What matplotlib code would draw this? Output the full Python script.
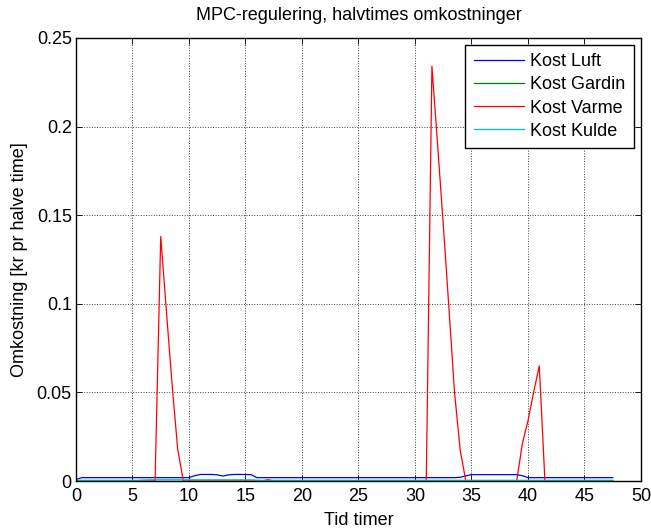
# MPC-regulering: halvtimes omkostninger for luft, gardin, varme og kulde
import numpy as np
import matplotlib
matplotlib.use("Agg")
import matplotlib.pyplot as plt

plt.rcParams['font.family'] = ['Liberation Sans', 'DejaVu Sans']
plt.rcParams['font.size'] = 13

# Tid i timer, halvtimes skridt (0 .. 47.5)
tid = np.arange(96) * 0.5

kost_luft = [
    0.0008, 0.0019, 0.0019, 0.0019, 0.0019, 0.0019, 0.0019, 0.0019, 0.0019, 0.0019, 0.0019, 0.0019,
    0.0019, 0.0019, 0.0019, 0.0019, 0.0019, 0.0019, 0.0019, 0.0019, 0.0019, 0.0030, 0.0037, 0.0037,
    0.0037, 0.0035, 0.0028, 0.0035, 0.0037, 0.0037, 0.0037, 0.0036, 0.0019, 0.0019, 0.0019, 0.0019,
    0.0019, 0.0019, 0.0019, 0.0019, 0.0019, 0.0019, 0.0019, 0.0019, 0.0019, 0.0019, 0.0019, 0.0019,
    0.0019, 0.0019, 0.0019, 0.0019, 0.0019, 0.0019, 0.0019, 0.0019, 0.0019, 0.0019, 0.0019, 0.0019,
    0.0019, 0.0019, 0.0019, 0.0019, 0.0019, 0.0019, 0.0019, 0.0019, 0.0021, 0.0029, 0.0036, 0.0036,
    0.0036, 0.0036, 0.0036, 0.0036, 0.0036, 0.0036, 0.0036, 0.0030, 0.0019, 0.0019, 0.0019, 0.0019,
    0.0019, 0.0019, 0.0019, 0.0019, 0.0019, 0.0019, 0.0019, 0.0019, 0.0019, 0.0019, 0.0019, 0.0019,
]

kost_gardin = [
    0.0001, 0.0001, 0.0001, 0.0001, 0.0001, 0.0001, 0.0001, 0.0001, 0.0001, 0.0001, 0.0001, 0.0001,
    0.0001, 0.0001, 0.0001, 0.0001, 0.0001, 0.0001, 0.0001, 0.0001, 0.0001, 0.0001, 0.0001, 0.0001,
    0.0001, 0.0001, 0.0001, 0.0001, 0.0001, 0.0001, 0.0001, 0.0001, 0.0001, 0.0001, 0.0001, 0.0001,
    0.0001, 0.0001, 0.0001, 0.0001, 0.0001, 0.0001, 0.0001, 0.0001, 0.0001, 0.0001, 0.0001, 0.0001,
    0.0001, 0.0001, 0.0001, 0.0001, 0.0001, 0.0001, 0.0001, 0.0001, 0.0001, 0.0001, 0.0001, 0.0001,
    0.0001, 0.0001, 0.0001, 0.0001, 0.0001, 0.0001, 0.0001, 0.0001, 0.0001, 0.0001, 0.0001, 0.0001,
    0.0001, 0.0001, 0.0001, 0.0001, 0.0001, 0.0001, 0.0001, 0.0001, 0.0001, 0.0001, 0.0001, 0.0001,
    0.0001, 0.0001, 0.0001, 0.0001, 0.0001, 0.0001, 0.0001, 0.0001, 0.0001, 0.0001, 0.0001, 0.0001,
]

kost_varme = [
    0, 0, 0, 0, 0, 0, 0, 0, 0, 0, 0, 0,
    0, 0, 0, 0.138, 0.096, 0.055, 0.018, 0, 0, 0, 0, 0,
    0, 0, 0, 0, 0, 0, 0, 0, 0, 0, 0.0008, 0,
    0, 0, 0, 0, 0, 0, 0, 0, 0, 0, 0, 0,
    0, 0, 0, 0, 0, 0, 0, 0, 0, 0, 0, 0,
    0, 0, 0, 0.234, 0.190, 0.145, 0.098, 0.050, 0.0175, 0, 0, 0,
    0, 0, 0, 0, 0, 0, 0, 0.021, 0.034, 0.050, 0.065, 0,
    0, 0, 0, 0, 0, 0, 0, 0, 0, 0, 0, 0,
]

kost_kulde = [
    0.0004, 0.0004, 0.0004, 0.0004, 0.0004, 0.0004, 0.0004, 0.0004, 0.0004, 0.0004, 0.0004, 0.0004,
    0.0006, 0.0007, 0.0007, 0.0007, 0.0007, 0.0007, 0.0007, 0.0007, 0.0007, 0.0007, 0.0007, 0.0007,
    0.0007, 0.0007, 0.0007, 0.0007, 0.0007, 0.0007, 0.0007, 0.0007, 0.0005, 0.0004, 0.0004, 0.0004,
    0.0004, 0.0004, 0.0004, 0.0004, 0.0004, 0.0004, 0.0004, 0.0004, 0.0004, 0.0004, 0.0004, 0.0004,
    0.0004, 0.0004, 0.0004, 0.0004, 0.0004, 0.0004, 0.0004, 0.0004, 0.0004, 0.0004, 0.0004, 0.0004,
    0.0004, 0.0004, 0.0004, 0.0004, 0.0004, 0.0004, 0.0004, 0.0004, 0.0004, 0.0004, 0.0004, 0.0004,
    0.0004, 0.0004, 0.0004, 0.0004, 0.0004, 0.0004, 0.0004, 0.0004, 0.0004, 0.0004, 0.0004, 0.0004,
    0.0004, 0.0004, 0.0004, 0.0004, 0.0004, 0.0004, 0.0004, 0.0004, 0.0004, 0.0004, 0.0004, 0.0004,
]

x_ticks = [0, 5, 10, 15, 20, 25, 30, 35, 40, 45, 50]
y_ticks = [0, 0.05, 0.1, 0.15, 0.2, 0.25]
y_tick_labels = ["0", "0.05", "0.1", "0.15", "0.2", "0.25"]

fig = plt.figure(figsize=(6.51, 5.29), dpi=100)
ax = fig.add_axes([0.1167, 0.0907, 0.8679, 0.8375])

lw = 0.9
ax.plot(tid, kost_luft, color=(0, 0, 1), lw=lw, label="Kost Luft")
ax.plot(tid, kost_gardin, color=(0, 0.5, 0), lw=lw, label="Kost Gardin")
ax.plot(tid, kost_varme, color=(1, 0, 0), lw=lw, label="Kost Varme")
ax.plot(tid, kost_kulde, color=(0, 0.75, 0.75), lw=lw, label="Kost Kulde")

ax.set_xlim(0, 50)
ax.set_ylim(0, 0.25)
ax.set_xticks(x_ticks)
ax.set_xticklabels([str(v) for v in x_ticks])
ax.set_yticks(y_ticks)
ax.set_yticklabels(y_tick_labels)

# grid and ticks in the usual matlab look
ax.grid(True, color="k", linestyle=":", linewidth=0.7, alpha=0.75)
ax.tick_params(direction="in", top=True, right=True, length=4, width=0.6)
ax.tick_params(axis="x", pad=5)
ax.tick_params(axis="y", pad=3)
for sp in ax.spines.values():
    sp.set_linewidth(1.0)

ax.set_title("MPC-regulering, halvtimes omkostninger", fontsize=13, pad=13)
ax.set_xlabel("Tid timer", labelpad=5)
ax.set_ylabel("Omkostning [kr pr halve time]", labelpad=6)

leg = ax.legend(loc="upper right", fancybox=False, framealpha=1, edgecolor="k",
                handlelength=2.8, handletextpad=0.35, borderaxespad=0.4,
                labelspacing=0.34, borderpad=0.45, fontsize=13)
leg.get_frame().set_linewidth(1.0)

fig.savefig("out.png", dpi=100)
